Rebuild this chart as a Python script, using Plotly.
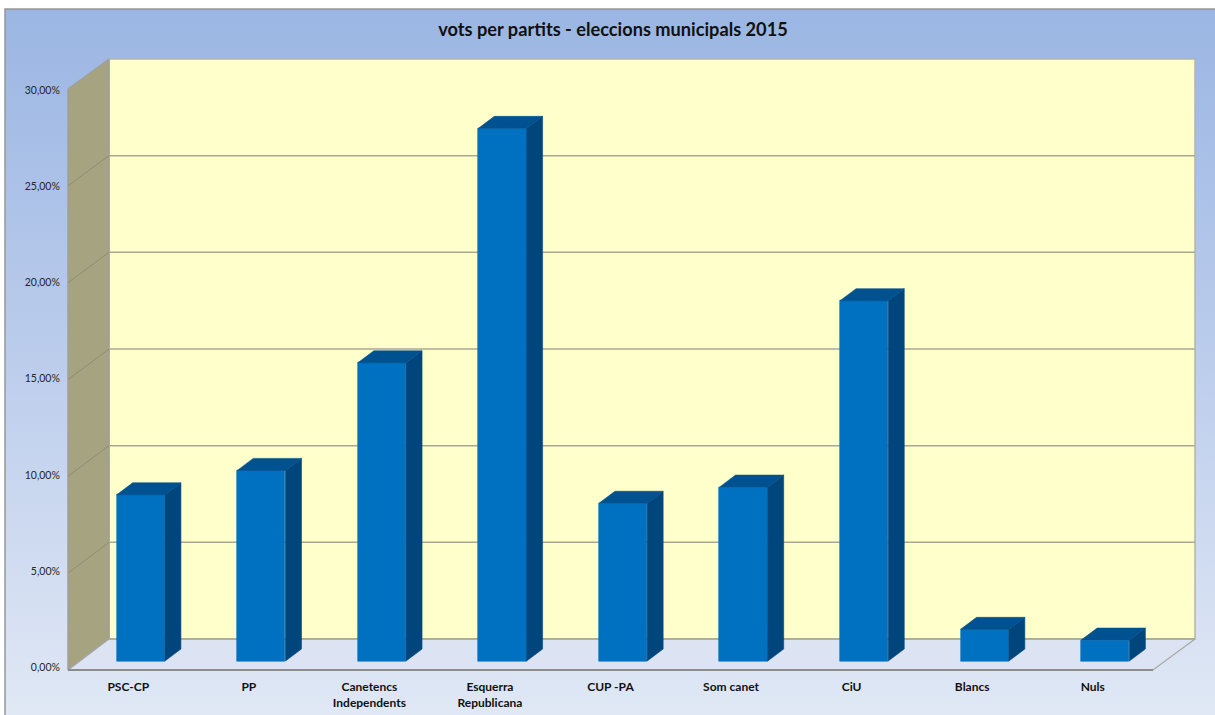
import plotly.graph_objects as go

categories = ["PSC-CP", "PP", "Canetencs<br>Independents", "Esquerra<br>Republicana",
              "CUP -PA", "Som canet", "CiU", "Blancs", "Nuls"]
values = [8.65, 9.92, 15.52, 27.72, 8.21, 9.05, 18.75, 1.65, 1.09]
y_ticks = [0, 5, 10, 15, 20, 25, 30]
y_tick_labels = ["0,00%", "5,00%", "10,00%", "15,00%", "20,00%", "25,00%", "30,00%"]
title_text = "vots per partits - eleccions municipals 2015"

W, H = 1215, 715
FONT = "Lato, Carlito, Calibri, sans-serif"
# front plane / back wall geometry in canvas pixels
FX0, FX1 = 68, 1153
AX_TOP, AX_BOT = 90.5, 667
BX0, BX1 = 109, 1195
BY_TOP, BY_BOT = 59, 639
LY_TOP, LY_BOT = 89, 670

xpos = list(range(len(categories)))
bar_base = 0.31
bar_offset = -0.096
bar_width = 0.400
depth_x = 0.1327
depth_y = 0.625

fig = go.Figure()

def poly(xs, ys, color, line=None, width=0, **kw):
    fig.add_trace(go.Scatter(
        x=xs, y=ys, mode="lines", fill="toself", fillcolor=color,
        line=dict(color=line or color, width=width), hoverinfo="skip",
        showlegend=False, **kw))

def seg(xs, ys, color, width=1):
    fig.add_trace(go.Scatter(x=xs, y=ys, mode="lines", line=dict(color=color, width=width),
                             hoverinfo="skip", showlegend=False))

# background with gradient
fig.add_trace(go.Scatter(
    x=[5, W, W, 5, 5], y=[9, 9, H, H, 9], mode="lines", fill="toself",
    fillgradient=dict(type="vertical", start=9, stop=H,
                      colorscale=[[0, "#9bb6e3"], [0.5, "#bccdec"], [1, "#e0e8f5"]]),
    line=dict(color="rgba(0,0,0,0)", width=0), hoverinfo="skip", showlegend=False))
seg([5, 5, W], [H, 9, 9], "#969696", 1.5)
# back wall, side wall, floor
poly([BX0, BX1, BX1, BX0, BX0], [BY_TOP, BY_TOP, BY_BOT, BY_BOT, BY_TOP], "#ffffcc", "#b4b4a8", 1.5)
poly([FX0, BX0, BX0, FX0, FX0], [LY_TOP, BY_TOP, BY_BOT, LY_BOT, LY_TOP], "#a6a380", "#a0a0a0", 1.5)
poly([FX0, BX0, BX1, FX1, FX0], [LY_BOT, BY_BOT, BY_BOT, LY_BOT, LY_BOT], "#dce4f3", "#a6a6a6", 1.2)
# gridlines on the walls
for v in y_ticks[:-1]:
    by = BY_BOT - (BY_BOT - BY_TOP) * v / 30
    ly = LY_BOT - (LY_BOT - LY_TOP) * v / 30
    if v:
        seg([FX0, BX0], [ly, by], "#8f8d72", 1)
    seg([BX0, BX1], [by, by], "#a9a894", 1.5)
# front floor edge
seg([FX0, FX1], [LY_BOT, LY_BOT], "#8c8c8c", 2.2)

# bars: front faces, with side and top faces
lefts = [x + bar_offset for x in xpos]
rights = [l + bar_width for l in lefts]
tops = [bar_base + v for v in values]

side_x, side_y, top_x, top_y = [], [], [], []
for l, r, t in zip(lefts, rights, tops):
    side_x += [r, r + depth_x, r + depth_x, r, r, None]
    side_y += [bar_base, bar_base + depth_y, t + depth_y, t, bar_base, None]
    top_x += [l, r, r + depth_x, l + depth_x, l, None]
    top_y += [t, t, t + depth_y, t + depth_y, t, None]

fig.add_trace(go.Scatter(x=side_x, y=side_y, mode="lines", fill="toself", fillcolor="#00467c",
                         line=dict(color="#00467c", width=0.6), xaxis="x2", yaxis="y2",
                         hoverinfo="skip", showlegend=False))
fig.add_trace(go.Scatter(x=top_x, y=top_y, mode="lines", fill="toself", fillcolor="#00518f",
                         line=dict(color="#00518f", width=0.6), xaxis="x2", yaxis="y2",
                         hoverinfo="skip", showlegend=False))
fig.add_trace(go.Bar(x=xpos, y=values, base=bar_base, width=bar_width, offset=bar_offset,
                     marker=dict(color="#0070c0", line=dict(color="#0070c0", width=0.6)),
                     xaxis="x2", yaxis="y2", showlegend=False))

fig.update_layout(
    width=W, height=H, margin=dict(l=0, r=0, t=0, b=0, autoexpand=False),
    paper_bgcolor="white", plot_bgcolor="rgba(0,0,0,0)", showlegend=False,
    bargap=0,
    title=dict(text="<b>" + title_text + "</b>", x=613 / W, xanchor="center",
               y=1 - 30 / H, yanchor="middle",
               font=dict(family=FONT, size=18.2, color="#111111", weight="bold")),
    font=dict(family=FONT),
    xaxis=dict(domain=[0, 1], range=[0, W], visible=False, fixedrange=True),
    yaxis=dict(domain=[0, 1], range=[H, 0], visible=False, fixedrange=True),
    xaxis2=dict(domain=[FX0 / W, FX1 / W], range=[-0.5, 8.5], anchor="y2",
                tickmode="array", tickvals=xpos, ticktext=categories,
                showgrid=False, zeroline=False, showline=False,
                ticks="outside", ticklen=9, tickcolor="rgba(0,0,0,0)", tickangle=0,
                tickfont=dict(family=FONT, size=12, color="#111111", weight="bold")),
    yaxis2=dict(domain=[1 - AX_BOT / H, 1 - AX_TOP / H], range=[0, 30], anchor="x2",
                tickmode="array", tickvals=y_ticks, ticktext=y_tick_labels,
                showgrid=False, zeroline=False, showline=False,
                ticks="outside", ticklen=5, tickcolor="rgba(0,0,0,0)",
                tickfont=dict(family=FONT, size=10.5, color="#262626")),
)

fig.write_html("out.html", config=dict(displayModeBar=False),
               post_script="document.body.style.margin='0';document.documentElement.style.overflow='hidden';")
